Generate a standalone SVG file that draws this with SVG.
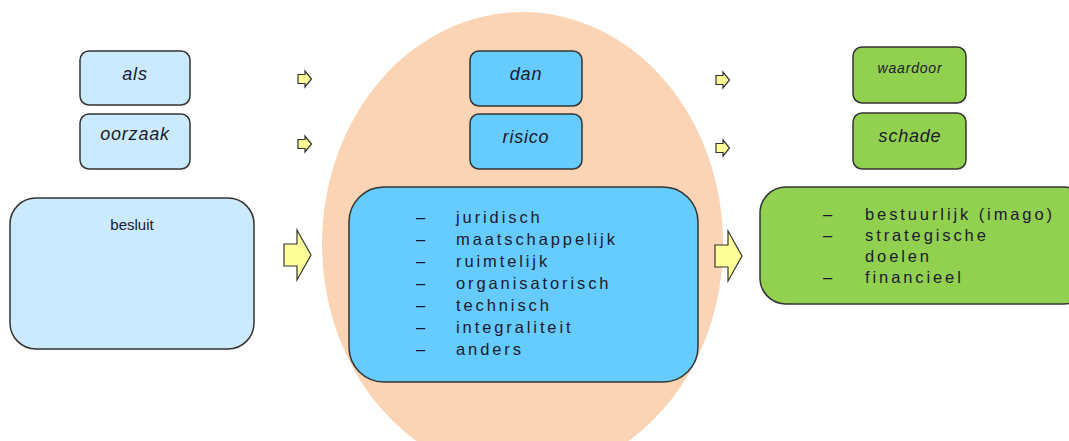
<svg xmlns="http://www.w3.org/2000/svg" width="1069" height="441" viewBox="0 0 1069 441">
<defs>
<style>
.bx{stroke:#333;stroke-width:1.5}
.lb{fill:#cceafd}
.mb{fill:#66ccff}
.gb{fill:#92d050}
.ar{fill:#ffff99;stroke:#333;stroke-width:1.2;stroke-linejoin:miter}
text{font-family:"Liberation Sans",Arial,sans-serif;fill:#1a1a2e}
.it{font-style:italic;font-size:18px;letter-spacing:0.8px;text-anchor:middle}
.ls{font-size:16.5px;letter-spacing:2.9px}
</style>
<path id="sa" d="M0,3.5 H7 V0 L13.5,8 L7,16 V12.5 H0 Z"/>
<path id="ba" d="M0,14 H13 V0 L27,25 L13,50 V36 H0 Z"/>
</defs>
<rect width="1069" height="441" fill="#fff"/>
<ellipse id="circle" cx="522.5" cy="244" rx="200.5" ry="232" fill="#fad4b4"/>
<g id="connectors">
<use href="#sa" class="ar" x="298" y="71"/>
<use href="#sa" class="ar" x="298" y="136"/>
<use href="#ba" class="ar" x="284" y="230"/>
<use href="#sa" class="ar" x="716" y="72"/>
<use href="#sa" class="ar" x="716" y="140"/>
<use href="#ba" class="ar" x="715" y="231"/>
</g>
<g id="als"><rect class="bx lb" x="80" y="51" width="110" height="54" rx="9"/><text class="it" x="135" y="80">als</text></g>
<g id="oorzaak"><rect class="bx lb" x="80" y="114" width="110" height="55" rx="9"/><text class="it" x="135" y="140">oorzaak</text></g>
<g id="besluit"><rect class="bx lb" x="10" y="198" width="244" height="151" rx="26"/><text x="132" y="230" font-size="15" text-anchor="middle">besluit</text></g>
<g id="dan"><rect class="bx mb" x="470" y="51" width="112" height="55" rx="9"/><text class="it" x="526" y="80">dan</text></g>
<g id="risico"><rect class="bx mb" x="470" y="114" width="112" height="55" rx="9"/><text class="it" x="526" y="143">risico</text></g>
<g id="risicolijst"><rect class="bx mb" x="349" y="187" width="349" height="195" rx="35"/>
<g class="ls">
<text x="416" y="223">–</text><text x="456" y="223">juridisch</text>
<text x="416" y="245">–</text><text x="456" y="245">maatschappelijk</text>
<text x="416" y="267">–</text><text x="456" y="267">ruimtelijk</text>
<text x="416" y="289">–</text><text x="456" y="289">organisatorisch</text>
<text x="416" y="311">–</text><text x="456" y="311">technisch</text>
<text x="416" y="333">–</text><text x="456" y="333">integraliteit</text>
<text x="416" y="355">–</text><text x="456" y="355">anders</text>
</g></g>
<g id="waardoor"><rect class="bx gb" x="853" y="47" width="113" height="56" rx="9"/><text x="910" y="73" font-size="14" font-style="italic" letter-spacing="0.8" text-anchor="middle">waardoor</text></g>
<g id="schade"><rect class="bx gb" x="853" y="113" width="113" height="56" rx="9"/><text class="it" x="910" y="142">schade</text></g>
<g id="schadelijst"><rect class="bx gb" x="760" y="187" width="330" height="117" rx="26"/>
<g class="ls">
<text x="823" y="220">–</text><text x="865" y="220">bestuurlijk (imago)</text>
<text x="823" y="241">–</text><text x="865" y="241">strategische</text>
<text x="865" y="262">doelen</text>
<text x="823" y="283">–</text><text x="865" y="283">financieel</text>
</g></g>
</svg>
